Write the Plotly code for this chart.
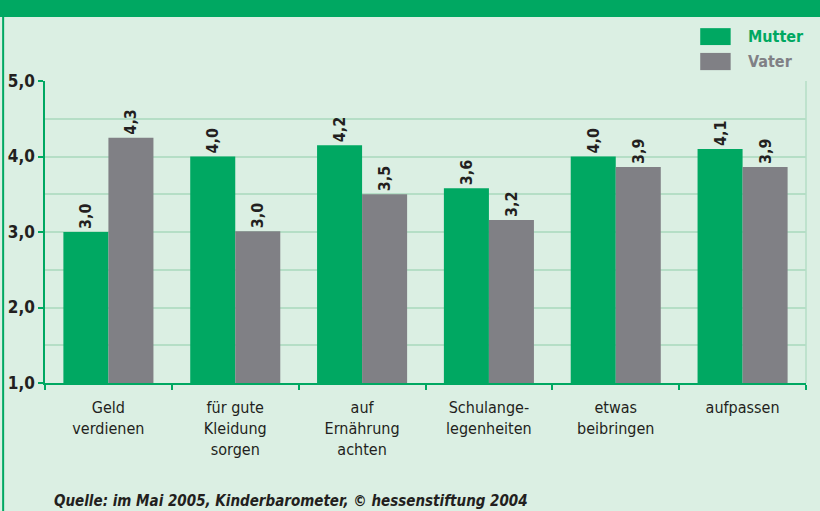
import plotly.graph_objects as go

categories = ["Geld<br>verdienen", "für gute<br>Kleidung<br>sorgen", "auf<br>Ernährung<br>achten",
              "Schulange-<br>legenheiten", "etwas<br>beibringen", "aufpassen"]
series_names = ["Mutter", "Vater"]
mutter = [3.0, 4.0, 4.15, 3.58, 4.0, 4.1]
vater = [4.25, 3.01, 3.5, 3.16, 3.86, 3.86]
mutter_labels = ["3,0", "4,0", "4,2", "3,6", "4,0", "4,1"]
vater_labels = ["4,3", "3,0", "3,5", "3,2", "3,9", "3,9"]
y_ticks = [1, 2, 3, 4, 5]
y_tick_labels = ["1,0", "2,0", "3,0", "4,0", "5,0"]
source = "Quelle: im Mai 2005, Kinderbarometer, © hessenstiftung 2004"

GREEN = "#00a862"
GREY = "#808085"
BG = "#dbefe3"
GRID = "#b5dec6"
TXT = "#231f20"
FONT = "DejaVu Sans Condensed, sans-serif"

fig = go.Figure()
for vals, labels, color in [(mutter, mutter_labels, GREEN), (vater, vater_labels, GREY)]:
    fig.add_trace(go.Bar(
        x=categories, y=[v - 1 for v in vals], base=1,
        marker=dict(color=color, line=dict(width=0)),
        text=labels, texttemplate="<b>%{text}</b>",
        textposition="outside", textangle=-90,
        textfont=dict(family=FONT, size=16, color=TXT), cliponaxis=False,
        hoverinfo="skip", showlegend=False,
    ))

fig.update_layout(
    width=820, height=511,
    paper_bgcolor=BG, plot_bgcolor=BG,
    margin=dict(l=45, r=14, t=81, b=128),
    barmode="group", bargap=0.29, bargroupgap=0,
    showlegend=False,
    font=dict(family=FONT, color=TXT),
)
fig.update_yaxes(
    range=[1, 5], tickvals=y_ticks, ticktext=["<b>%s</b>" % t for t in y_tick_labels],
    tickfont=dict(family=FONT, size=17, color=TXT),
    showgrid=True, gridcolor=GRID, gridwidth=1.5,
    minor=dict(dtick=0.5, showgrid=True, gridcolor=GRID, gridwidth=1.5),
    showline=True, linecolor=GREEN, linewidth=1.5,
    ticks="outside", ticklen=5, tickcolor=GREEN, tickwidth=1.5,
    zeroline=False, automargin=False,
)
fig.update_xaxes(
    tickfont=dict(family=FONT, size=16, color=TXT),
    showline=True, linecolor=GREEN, linewidth=2,
    ticks="outside", tickson="boundaries", ticklen=5, tickcolor=GREEN, tickwidth=1.5,
    showgrid=False, automargin=False, ticklabelstandoff=9,
)
# right border line of plot area
fig.add_shape(type="line", xref="paper", yref="paper", x0=1, x1=1, y0=0, y1=1,
              line=dict(color=GRID, width=1.5))
# top banner and left border
fig.add_shape(type="rect", xref="paper", yref="paper", x0=-0.1, x1=1.1, y0=1.212, y1=1.3,
              fillcolor=GREEN, line=dict(width=0), layer="above")
fig.add_shape(type="line", xref="paper", yref="paper", x0=-0.055, x1=-0.055, y0=-0.5, y1=1.215,
              line=dict(color=GREEN, width=2))
# legend
legend_rows = [(series_names[0], GREEN, 1.175, 1.119), (series_names[1], GREY, 1.093, 1.036)]
for name, color, y1, y0 in legend_rows:
    fig.add_shape(type="rect", xref="paper", yref="paper", x0=0.861, x1=0.901, y0=y0, y1=y1,
                  fillcolor=color, line=dict(width=0))
    fig.add_annotation(text="<b>%s</b>" % name, xref="paper", yref="paper",
                       x=0.921, y=(y0 + y1) / 2, xanchor="left", yanchor="middle",
                       showarrow=False, font=dict(family=FONT, size=16, color=color))
fig.add_annotation(
    text="<b><i>%s</i></b>" % source,
    xref="paper", yref="paper", x=0.009, y=-0.39, xanchor="left", yanchor="middle",
    showarrow=False, font=dict(family=FONT, size=15, color=TXT),
)
fig.write_html("out.html", config={"displayModeBar": False},
               post_script="document.body.style.margin='0';document.body.style.overflow='hidden';")
